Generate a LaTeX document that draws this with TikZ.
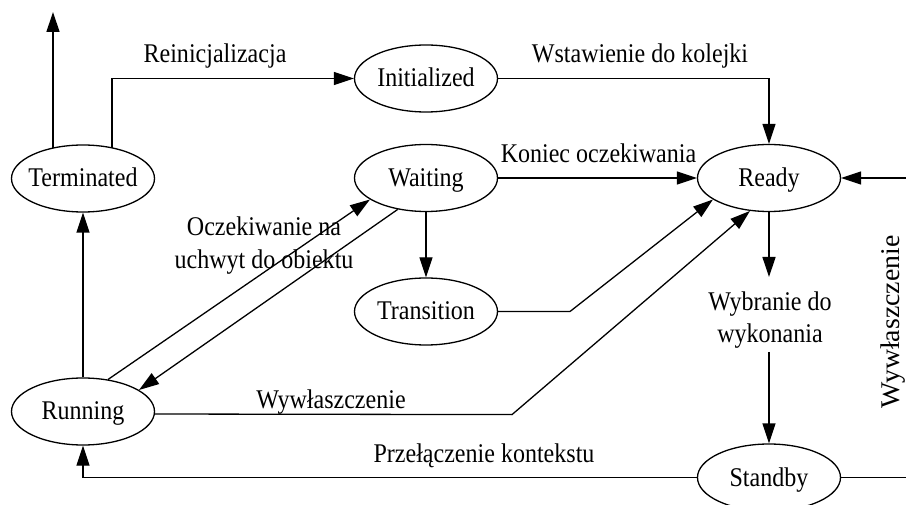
\documentclass[tikz,border=0pt]{standalone}
\usepackage{fontspec}
\setmainfont{Liberation Serif}
\newfontfamily\narrowfont[FakeStretch=0.89]{Liberation Serif}
\newfontfamily\sidefont[FakeStretch=1.03]{Liberation Serif}
\usetikzlibrary{arrows.meta,shapes.geometric,calc}
\begin{document}
\begin{tikzpicture}[x=1pt,y=-1pt,
  state/.style={draw, ellipse, line width=1.3pt, minimum width=143pt,
    minimum height=67pt, inner xsep=-12pt, inner ysep=0pt,
    text height=17pt, text depth=0pt, font=\narrowfont\fontsize{27}{32}\selectfont},
  lbl/.style={font=\narrowfont\fontsize{27}{32.5}\selectfont, inner sep=0pt,
    anchor=base, align=center},
  link/.style={line width=1.3pt},
  arr/.style={link, -{Triangle[length=20pt,width=13pt]}},
]
\clip (0,0) rectangle (906,505);
\useasboundingbox (0,0) rectangle (906,505);

% thread states
\node[state] (T)  at (83,178.5)  {Terminated};
\node[state] (I)  at (426,78.5)  {Initialized};
\node[state] (W)  at (426,178)   {Waiting};
\node[state] (R)  at (769,178)   {Ready};
\node[state] (Tr) at (426,311.5) {Transition};
\node[state] (Ru) at (83,411.5)  {Running};
\node[state] (S)  at (769,477.5) {Standby};

% helper points for bends and free ends
\coordinate (out)     at (53,12);
\coordinate (exitT)   at ($(T.center)+(-30,-30.4)$);
\coordinate (reinitA) at ($(T.center)+(29,-30.6)$);
\coordinate (trBend)  at (570,311.5);
\coordinate (preBend) at (512,414.6);
\coordinate (wybTop)  at (769,277);
\coordinate (wybBot)  at (769,352);
\coordinate (loopR)   at (930,0);

% transitions
\draw[arr] (exitT) -- (out);
\draw[arr] (reinitA) |- (I.west);
\draw[arr] (I.east) -| (R.north);
\draw[arr] (W.east) -- (R.west);
\draw[arr] (W.south) -- (Tr.north);
\draw[arr] (Tr.east) -- (trBend) -- (R.201);
\draw[arr] (Ru.52) -- (W.201);
\draw[arr] (W.228) -- (Ru.21);
\draw[arr] (Ru.north) -- (T.south);
\draw[arr] (Ru.-2.5) -- (preBend) -- (R.240);
\draw[arr] (R.south) -- (wybTop);
\draw[arr] (wybBot) -- (S.north);
\draw[arr] (S.west) -| (Ru.south);
\draw[arr] (S.east) -- (S.east -| loopR) -- (R.east -| loopR) -- (R.east);

% transition labels (multi-line ones sit on their last baseline)
\node[lbl] (lReinit)   at (215,63)    {Reinicjalizacja};
\node[lbl] (lQueue)    at (640,63)    {Wstawienie do kolejki};
\node[lbl] (lWaitEnd)  at (598.5,163) {Koniec oczekiwania};
\node[lbl] (lWaitObj)  at (264,268.5) {Oczekiwanie na\\uchwyt do obiektu};
\node[lbl] (lPreempt)  at (331,408)   {Wywłaszczenie};
\node[lbl] (lSwitch)   at (484,462)   {Przełączenie kontekstu};
\node[lbl] (lSelect)   at (770,343)   {Wybranie do\\wykonania};
\node[lbl, rotate=90, font=\sidefont\fontsize{27}{32}\selectfont]
  (lPreemptR) at (899,322) {Wywłaszczenie};
\end{tikzpicture}
\end{document}
